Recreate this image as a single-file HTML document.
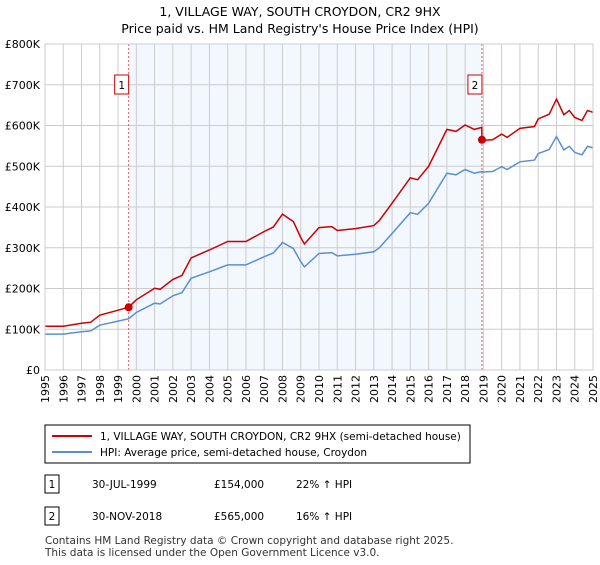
<!DOCTYPE html>
<html><head><meta charset="utf-8"><style>
body{margin:0;background:#fff;font-family:"Liberation Sans","DejaVu Sans",sans-serif;}
svg text{font-family:"DejaVu Sans","Liberation Sans",sans-serif;}
</style></head><body>
<svg id="c" width="600" height="560" viewBox="0 0 600 560" xmlns="http://www.w3.org/2000/svg">
<text x="300" y="16" text-anchor="middle" font-size="12.5" fill="#000">1, VILLAGE WAY, SOUTH CROYDON, CR2 9HX</text>
<text x="300" y="33" text-anchor="middle" font-size="12.5" fill="#000">Price paid vs. HM Land Registry's House Price Index (HPI)</text>
<g id="plot"></g>
<g>
<rect x="45" y="425" width="425" height="38" fill="#fff" stroke="#000" stroke-width="1"/>
<line x1="52" y1="436" x2="92" y2="436" stroke="#cc0000" stroke-width="2"/>
<text x="100" y="440" font-size="10.5">1, VILLAGE WAY, SOUTH CROYDON, CR2 9HX (semi-detached house)</text>
<line x1="52" y1="452" x2="92" y2="452" stroke="#5b8fd4" stroke-width="2"/>
<text x="100" y="456" font-size="10.5">HPI: Average price, semi-detached house, Croydon</text>
</g>
<g font-size="10.5">
<rect x="45" y="475" width="14" height="18" fill="#fff" stroke="#000"/>
<text x="52" y="488" text-anchor="middle">1</text>
<text x="92" y="488">30-JUL-1999</text>
<text x="214" y="488">£154,000</text>
<text x="296" y="488">22% ↑ HPI</text>
<rect x="45" y="507" width="14" height="18" fill="#fff" stroke="#000"/>
<text x="52" y="520" text-anchor="middle">2</text>
<text x="92" y="520">30-NOV-2018</text>
<text x="214" y="520">£565,000</text>
<text x="296" y="520">16% ↑ HPI</text>
</g>
<text x="45" y="544" font-size="10.5" fill="#333">Contains HM Land Registry data © Crown copyright and database right 2025.</text>
<text x="45" y="556" font-size="10.5" fill="#333">This data is licensed under the Open Government Licence v3.0.</text>
</svg>
<script>
const hpiYears=[1995,1996,1997,1997.5,1998,1999,1999.58,2000,2001,2001.3,2002,2002.5,2003,2004,2005,2006,2007,2007.5,2008,2008.6,2009,2009.2,2010,2010.7,2011,2012,2013,2013.3,2014,2015,2015.4,2016,2017,2017.5,2018,2018.5,2018.92,2019,2019.5,2020,2020.3,2021,2021.8,2022,2022.6,2023,2023.4,2023.7,2024,2024.4,2024.7,2025];
const hpiValues=[88,88,94,96,110,120,126,141,164,162,182,190,225,241,258,258,278,287,313,298,266,253,286,288,280,284,290,300,335,386,382,409,483,479,492,483,487,486,487,499,492,511,515,531,541,573,540,549,534,528,549,545];
const saleYears=[1999.58,2018.92];
const salePrices=[154,565];
const saleLabels=["1","2"];
const yTicks=[0,100,200,300,400,500,600,700,800];
const yTickLabels=["£0","£100K","£200K","£300K","£400K","£500K","£600K","£700K","£800K"];
const xTicks=[1995,1996,1997,1998,1999,2000,2001,2002,2003,2004,2005,2006,2007,2008,2009,2010,2011,2012,2013,2014,2015,2016,2017,2018,2019,2020,2021,2022,2023,2024,2025];

const X0=45,X1=593,Y0=370,Y1=44;
const xs=v=>X0+(v-1995)/30*(X1-X0);
const ys=v=>Y0-(v/800)*(Y0-Y1);
const NS="http://www.w3.org/2000/svg";
const plot=document.getElementById('plot');
function mk(tag,attrs){const e=document.createElementNS(NS,tag);for(const k in attrs)e.setAttribute(k,attrs[k]);plot.appendChild(e);return e;}
function hpiAt(t){for(let i=0;i<hpiYears.length-1;i++){if(t>=hpiYears[i]&&t<=hpiYears[i+1]){const f=(t-hpiYears[i])/(hpiYears[i+1]-hpiYears[i]);return hpiValues[i]+f*(hpiValues[i+1]-hpiValues[i]);}}return hpiValues[hpiValues.length-1];}

let r=mk('rect',{x:X0,y:Y1,width:X1-X0,height:Y0-Y1,fill:'#fff'});


let sh=mk('rect',{x:xs(saleYears[0]),y:Y1,width:xs(saleYears[1])-xs(saleYears[0]),height:Y0-Y1,fill:'#eef3fd',opacity:0.7});


xTicks.forEach((t,i)=>{
  const g=mk('line',{x1:xs(t),x2:xs(t),y1:Y1,y2:Y0,stroke:'#cccccc','stroke-width':1});
  
  
  const tx=mk('text',{x:0,y:0,'font-size':11,'text-anchor':'end',transform:`translate(${xs(t)+4},${Y0+5}) rotate(-90)`});
  tx.textContent=t;
  
  
});
yTicks.forEach((t,i)=>{
  const g=mk('line',{x1:X0,x2:X1,y1:ys(t),y2:ys(t),stroke:'#cccccc','stroke-width':1});
  
  
  const tx=mk('text',{x:40,y:ys(t)+4,'font-size':11,'text-anchor':'end'});
  tx.textContent=yTickLabels[i];
  
  
});
saleYears.forEach((s,i)=>{
  const l=mk('line',{x1:xs(s),x2:xs(s),y1:Y1,y2:Y0,stroke:'#e06060','stroke-width':1,'stroke-dasharray':'2,2'});
  
  
  const b=mk('rect',{x:xs(s)-14,y:75,width:14,height:19,fill:'#fff',stroke:'#cc0000'});
  
  
  const t=mk('text',{x:xs(s)-7,y:89,'font-size':10.5,'text-anchor':'middle'});
  t.textContent=saleLabels[i];
  
  
});
// HPI line
let d=hpiYears.map((y,i)=>(i?'L':'M')+xs(y).toFixed(1)+','+ys(hpiValues[i]).toFixed(1)).join('');
const hp=mk('path',{d:d,fill:'none',stroke:'#5b8fd4','stroke-width':1.5});


// property line: HPI scaled from the most recent sale
let pts=[];
hpiYears.forEach((y,i)=>{
  if(y>saleYears[1]-0.001&&y<saleYears[1]+0.001)return;
  let k=y<saleYears[1]?0:1;
  pts.push([y,hpiValues[i]*salePrices[k]/hpiAt(saleYears[k])]);
});
pts.push([saleYears[1]-0.01,hpiAt(saleYears[1])*salePrices[0]/hpiAt(saleYears[0])]);
pts.push([saleYears[1],salePrices[1]]);
pts.sort((a,b)=>a[0]-b[0]);
d=pts.map((p,i)=>(i?'L':'M')+xs(p[0]).toFixed(1)+','+ys(p[1]).toFixed(1)).join('');
const pp=mk('path',{d:d,fill:'none',stroke:'#cc0000','stroke-width':1.5});


saleYears.forEach((s,i)=>{
  const c=mk('circle',{cx:xs(s),cy:ys(salePrices[i]),r:4,fill:'#cc0000'});
  
  
});
const fr=mk('rect',{x:X0,y:Y1,width:X1-X0,height:Y0-Y1,fill:'none',stroke:'#cccccc'});


</script>
</body></html>
